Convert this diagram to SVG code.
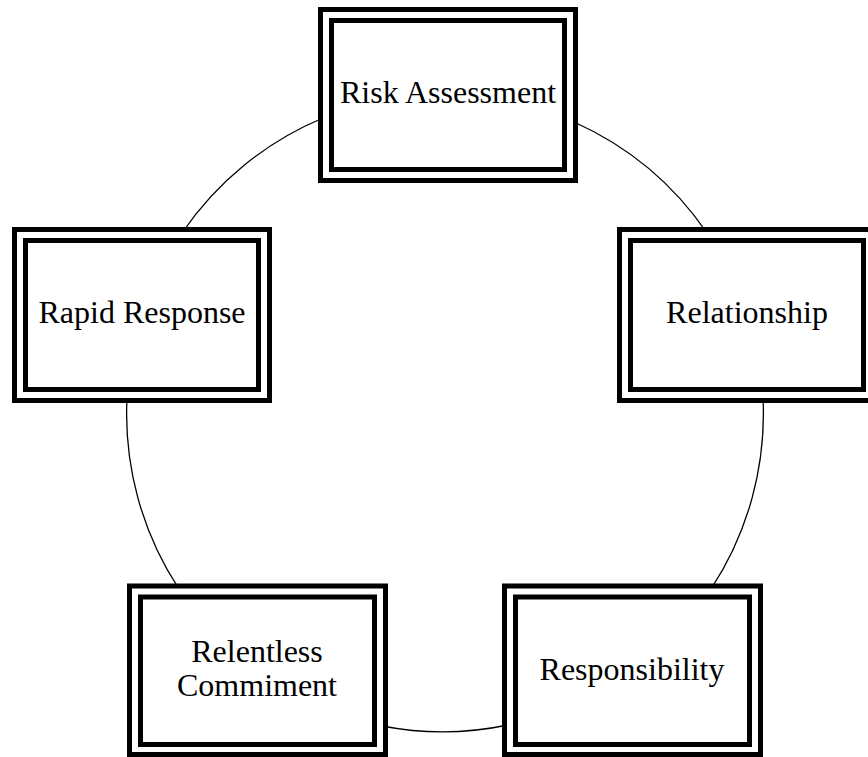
<svg xmlns="http://www.w3.org/2000/svg" width="868" height="757" viewBox="0 0 868 757">
<style>
.outer{fill:#fff;stroke:#000;stroke-width:5}
.inner{fill:none;stroke:#000;stroke-width:5}
.lbl{font-family:"Liberation Serif","Times New Roman",serif;font-size:32px;fill:#000;text-anchor:middle}
.arc{fill:none;stroke:#000;stroke-width:1.3}
</style>
<rect width="868" height="757" fill="#fff"/>
<g id="connectors">
<path class="arc" d="M574,122 A319,319 0 0 1 707,233"/>
<path class="arc" d="M763,398 A319,319 0 0 1 711,589"/>
<path class="arc" d="M508,725 A319,319 0 0 1 382,726"/>
<path class="arc" d="M179,589 A319,319 0 0 1 127,398"/>
<path class="arc" d="M182,233 A319,319 0 0 1 323,118"/>
</g>
<g id="risk-assessment">
<rect class="outer" x="320.5" y="9.5" width="255" height="171"/>
<rect class="inner" x="331.5" y="20.5" width="233" height="149"/>
<text class="lbl" x="448" y="103">Risk Assessment</text>
</g>
<g id="rapid-response">
<rect class="outer" x="14.5" y="229.5" width="255" height="171"/>
<rect class="inner" x="25.5" y="240.5" width="233" height="149"/>
<text class="lbl" x="142" y="323">Rapid Response</text>
</g>
<g id="relationship">
<rect class="outer" x="619.5" y="229.5" width="255" height="171"/>
<rect class="inner" x="630.5" y="240.5" width="233" height="149"/>
<text class="lbl" x="747" y="323">Relationship</text>
</g>
<g id="relentless-commiment">
<rect class="outer" x="129.5" y="586" width="256" height="168.5"/>
<rect class="inner" x="140.5" y="597" width="234" height="147.5"/>
<text class="lbl" x="257" y="662">Relentless</text>
<text class="lbl" x="257" y="696">Commiment</text>
</g>
<g id="responsibility">
<rect class="outer" x="504.5" y="586" width="256" height="168.5"/>
<rect class="inner" x="515.5" y="597" width="234" height="147.5"/>
<text class="lbl" x="632" y="680">Responsibility</text>
</g>
</svg>
